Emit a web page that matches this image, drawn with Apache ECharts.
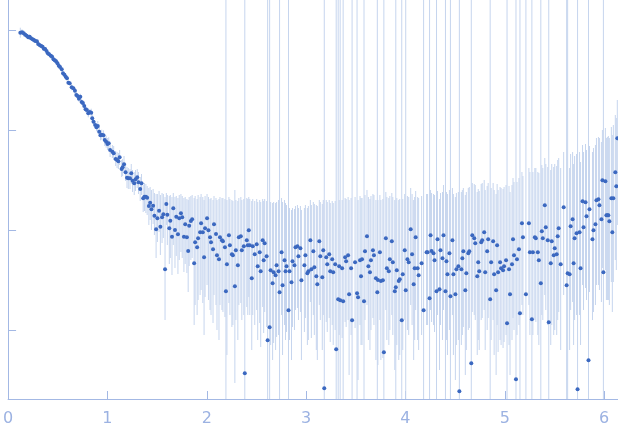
<!DOCTYPE html>
<html><head><meta charset="utf-8">
<script src="https://cdn.jsdelivr.net/npm/echarts@6/dist/echarts.min.js"></script>
<style>html,body{margin:0;padding:0;background:#fff}#c{width:618px;height:437px}</style>
</head><body><div id="c"></div>
<script>
// q (x axis) and log10 intensity values, by region
var xTicks = [0, 1, 2, 3, 4, 5, 6];
var yTicks = [0, 1, 2, 3];

// Region A: low q, symmetric error (log units)
var qA = [0.123,0.140,0.157,0.173,0.187,0.203,0.217,0.230,0.247,0.260,
0.273,0.290,0.303,0.317,0.333,0.347,0.360,0.373,0.387,0.400,
0.413,0.430,0.443,0.457,0.470,0.483,0.497,0.510,0.523,0.540,
0.553,0.567,0.580,0.593,0.607,0.620,0.640,0.657,0.673,0.687,
0.700,0.713,0.727,0.740,0.753,0.767,0.780,0.793,0.807,0.823,
0.837,0.847,0.860,0.877,0.890,0.903,0.917,0.930,0.943,0.960,
0.973,0.987,1.000,1.013,1.027];
var logIA = [2.973,2.977,2.967,2.953,2.943,2.927,2.933,2.917,2.907,2.900,
2.890,2.887,2.860,2.850,2.840,2.833,2.813,2.810,2.790,2.767,
2.757,2.743,2.733,2.707,2.697,2.687,2.667,2.643,2.630,2.607,
2.567,2.553,2.533,2.517,2.473,2.467,2.427,2.417,2.393,2.350,
2.340,2.313,2.333,2.280,2.270,2.240,2.207,2.200,2.167,2.180,
2.173,2.117,2.083,2.050,2.027,2.040,1.983,1.947,1.953,1.947,
1.900,1.883,1.860,1.867,1.800];
var errA = [0.05,0.03,0.03,0.02,0.02,0.02,0.02,0.02,0.02,0.02,
0.02,0.02,0.02,0.02,0.02,0.02,0.02,0.02,0.02,0.02,
0.02,0.02,0.02,0.02,0.02,0.02,0.02,0.02,0.02,0.02,
0.02,0.02,0.02,0.02,0.02,0.02,0.03,0.02,0.03,0.03,
0.03,0.03,0.03,0.03,0.03,0.03,0.03,0.03,0.04,0.03,
0.04,0.04,0.04,0.04,0.04,0.05,0.05,0.05,0.05,0.05,
0.06,0.06,0.06,0.06,0.07];

// Region B
var qB = [1.050,1.063,1.083,1.097,1.110,1.123,1.143,1.153,1.167,1.183,
1.197,1.210,1.227,1.240,1.253,1.270,1.283,1.300,1.313,1.330,
1.343,1.360,1.373,1.387,1.400,1.417,1.430,1.443,1.460,1.473,
1.490,1.503,1.520,1.533,1.550,1.563,1.580,1.593,1.603,1.623,
1.633,1.650,1.663,1.680,1.693,1.710,1.723,1.740,1.753,1.770,
1.783,1.800,1.813,1.823,1.840,1.853];
var logIB = [1.783,1.767,1.710,1.700,1.687,1.727,1.610,1.627,1.657,1.577,
1.523,1.517,1.517,1.567,1.493,1.467,1.507,1.527,1.477,1.410,
1.467,1.317,1.333,1.333,1.323,1.240,1.273,1.207,1.243,1.143,
1.007,1.117,1.193,1.033,1.127,1.157,0.607,1.260,1.153,1.017,
1.093,0.933,1.217,1.000,1.133,0.957,1.117,1.167,1.127,0.933,
1.057,0.927,0.790,1.043,1.090,1.107];
var hiB = [1.85,1.84,1.79,1.78,1.77,1.80,1.70,1.71,1.74,1.67,
1.63,1.62,1.61,1.66,1.60,1.58,1.60,1.61,1.58,1.53,
1.56,1.45,1.47,1.46,1.44,1.42,1.43,1.40,1.41,1.37,
1.36,1.36,1.39,1.35,1.37,1.36,1.33,1.37,1.35,1.34,
1.35,1.33,1.37,1.33,1.34,1.32,1.35,1.36,1.34,1.32,
1.33,1.31,1.30,1.33,1.34,1.35];
var loB = [1.72,1.70,1.64,1.62,1.61,1.65,1.53,1.54,1.57,1.49,
1.42,1.41,1.41,1.46,1.38,1.35,1.39,1.42,1.36,1.29,
1.35,1.18,1.19,1.17,1.15,1.05,1.10,1.00,1.06,0.95,
0.72,0.88,0.98,0.75,0.87,0.92,0.10,1.05,0.85,0.66,
0.72,0.55,0.85,0.62,0.74,0.56,0.70,0.78,0.72,0.58,
0.66,0.57,0.38,0.64,0.70,0.72];

// Region C
var qC = [1.873,1.883,1.903,1.913,1.933,1.943,1.960,1.973,1.983,2.003,
2.017,2.033,2.043,2.063,2.073,2.093,2.103,2.123,2.133,2.153,
2.163,2.183,2.193,2.203,2.223,2.233,2.253,2.263,2.283,2.293,
2.313,2.323,2.343,2.353,2.373,2.383,2.403,2.413,2.423,2.433,
2.453,2.463,2.483,2.503,2.513,2.533,2.543,2.563,2.573,2.583,
2.603,2.613,2.633,2.643,2.663,2.673,2.693,2.703];
var logIC = [0.667,0.877,0.827,0.917,0.977,1.067,0.977,0.727,1.017,1.117,
0.997,0.927,0.877,0.807,1.057,0.960,0.747,0.707,0.927,0.897,
0.887,0.827,0.387,0.657,0.947,0.847,0.757,0.747,0.437,0.797,
0.647,0.927,0.937,0.797,0.837,-0.433,0.897,0.847,0.997,0.847,
0.517,0.837,0.757,0.857,0.637,0.777,0.587,0.897,0.697,0.867,
0.737,-0.103,0.027,0.597,0.467,0.577,0.547,0.647];
var hiC = [1.32,1.34,1.31,1.35,1.33,1.36,1.33,1.30,1.34,1.36,
1.33,1.31,1.32,1.30,1.34,1.32,1.30,1.31,1.33,1.32,
1.32,1.31,3.40,1.30,1.33,1.31,1.30,1.29,1.40,1.30,
1.29,1.32,1.33,1.30,1.31,3.40,1.32,1.31,1.33,1.31,
1.29,1.31,1.29,1.31,1.28,1.30,1.28,1.31,1.29,1.31,
1.29,3.40,3.40,1.28,1.27,1.28,1.27,1.28];
var loC = [0.05,0.25,0.15,0.30,0.35,0.40,0.27,-0.05,0.33,0.45,
0.30,0.20,0.15,0.07,0.35,0.25,0.00,-0.10,0.25,0.20,
0.18,0.13,-0.80,-0.25,0.27,0.15,0.03,0.05,-0.53,0.10,
-0.10,0.25,0.27,0.10,0.15,-0.80,0.23,0.15,0.33,0.15,
-0.20,0.15,0.05,0.20,-0.10,0.07,-0.17,0.23,-0.03,0.18,
0.03,-0.80,-0.80,-0.15,-0.30,-0.13,-0.20,-0.07];

// Region D
var qD = [2.723,2.733,2.753,2.763,2.783,2.793,2.803,2.823,2.833,2.853,
2.863,2.883,2.893,2.913,2.923,2.943,2.953,2.983,2.993,3.013,
3.023,3.043,3.053,3.073,3.083,3.103,3.113,3.133,3.143,3.163,
3.173,3.183,3.203,3.213,3.233,3.243,3.263,3.273,3.293,3.303,
3.323,3.333,3.343,3.363,3.373,3.393,3.403,3.423,3.433,3.453,
3.463,3.493,3.513,3.523,3.543,3.553];
var logID = [0.587,0.377,0.777,0.447,0.697,0.587,0.637,0.197,0.587,0.477,
0.687,0.647,0.827,0.837,0.737,0.817,0.497,0.647,0.747,0.567,
0.587,0.897,0.607,0.787,0.627,0.537,0.457,0.887,0.737,0.527,
0.797,-0.583,0.727,0.657,0.757,0.587,0.707,0.577,0.657,-0.193,
0.307,0.637,0.297,0.617,0.287,0.727,0.687,0.747,0.357,0.617,
0.097,0.677,0.367,0.327,0.697,0.537];
var hiD = [1.30,3.40,1.32,1.28,1.30,1.27,1.25,3.40,1.22,1.20,
1.22,1.21,1.24,1.25,1.22,1.24,1.20,1.22,1.25,1.22,
1.24,1.30,1.25,1.28,1.26,1.25,1.24,1.30,1.28,1.26,
1.30,3.40,1.30,1.28,1.30,1.27,1.29,1.27,1.29,3.40,
3.40,1.30,3.40,1.30,3.40,1.32,1.31,1.33,1.30,1.32,
3.40,1.33,3.40,1.30,1.34,1.32];
var loD = [-0.05,-0.80,0.15,-0.25,0.05,-0.10,-0.02,-0.80,-0.10,-0.30,
0.03,0.00,0.20,0.22,0.10,0.18,-0.30,-0.02,0.12,-0.15,
-0.10,0.28,-0.08,0.15,-0.05,-0.20,-0.30,0.25,0.10,-0.20,
0.15,-0.80,0.08,-0.02,0.12,-0.12,0.05,-0.15,0.00,-0.80,
-0.80,-0.05,-0.80,-0.08,-0.80,0.08,0.03,0.10,-0.45,-0.05,
-0.80,0.02,-0.80,-0.50,0.05,-0.15];

// Region E
var qE = [3.563,3.583,3.593,3.613,3.627,3.643,3.653,3.673,3.683,3.703,
3.717,3.723,3.743,3.753,3.773,3.783,3.803,3.813,3.833,3.843,
3.863,3.873,3.893,3.903,3.913,3.933,3.943,3.963,3.973,3.993,
4.003,4.020,4.033,4.053,4.067,4.083,4.093,4.103,4.123,4.133,
4.163,4.183,4.213,4.223,4.243,4.253,4.263,4.283,4.293,4.313,
4.323,4.343,4.353];
var logIE = [0.707,0.287,0.787,0.937,0.637,0.577,0.697,0.797,0.747,0.517,
0.377,0.500,0.777,0.490,0.497,-0.223,0.917,0.617,0.587,0.707,
0.887,0.677,0.387,0.427,0.597,0.490,0.507,0.097,0.557,0.797,
0.397,0.707,0.677,1.007,0.757,0.457,0.617,0.927,0.617,0.547,
0.667,0.197,0.777,0.777,0.317,0.947,0.790,0.767,0.697,0.387,
0.907,0.407,0.797];
var hiE = [1.32,3.40,1.35,1.40,1.33,1.31,1.34,1.36,1.35,1.30,
3.40,1.30,1.35,1.30,1.31,3.40,1.38,1.33,1.32,1.34,
1.37,1.33,1.30,3.40,1.32,1.30,1.31,3.40,1.31,1.36,
3.40,1.34,1.33,1.42,1.36,1.30,1.33,1.39,1.33,1.32,
1.34,3.40,1.36,1.36,3.40,1.40,1.37,1.36,1.35,3.40,
1.39,1.31,1.37];
var loE = [-0.15,-0.80,0.10,0.25,-0.10,-0.20,0.00,0.12,0.05,-0.30,
-0.80,-0.35,0.10,-0.30,-0.28,-0.80,0.20,-0.10,-0.15,0.00,
0.15,-0.05,-0.40,-0.80,-0.15,-0.30,-0.25,-0.80,-0.20,0.10,
-0.80,0.00,-0.05,0.25,0.05,-0.30,-0.10,0.20,-0.10,-0.20,
-0.05,-0.80,0.05,0.05,-0.80,0.20,0.08,0.05,-0.02,-0.80,
0.15,-0.40,0.05];

// Region F
var qF = [4.373,4.383,4.403,4.413,4.423,4.443,4.453,4.473,4.483,4.503,
4.513,4.533,4.543,4.563,4.573,4.583,4.603,4.613,4.633,4.643,
4.663,4.673,4.693,4.703,4.723,4.733,4.743,4.763,4.773,4.793,
4.803,4.823,4.833,4.853,4.863,4.883,4.893,4.913,4.923,4.933,
4.953,4.963,4.983,4.993,5.013,5.023,5.043,5.053,5.073,5.083,
5.093,5.113,5.123,5.143,5.153,5.173,5.183,5.213];
var logIF = [0.717,0.947,0.387,0.687,0.557,0.767,0.337,0.897,0.557,0.357,
0.607,0.637,-0.613,0.607,0.717,0.787,0.397,0.567,0.767,0.787,
-0.333,0.947,0.917,0.867,0.537,0.677,0.587,0.877,0.897,0.977,
0.577,0.787,0.907,0.307,0.677,0.887,0.557,0.397,0.847,0.577,
0.677,0.617,0.597,0.637,0.697,0.067,0.607,0.357,0.657,0.907,
0.747,-0.493,0.707,0.807,0.167,1.067,0.927,0.357];
var hiF = [1.38,1.45,3.40,1.38,1.36,1.40,3.40,1.42,1.36,1.33,
1.37,1.38,3.40,1.38,1.40,1.42,1.35,1.38,1.42,1.43,
3.40,1.47,1.46,1.45,1.38,1.41,1.39,1.46,1.47,1.50,
1.40,1.44,1.47,3.40,1.42,1.47,1.40,1.36,1.46,1.40,
1.43,1.42,1.41,1.43,1.45,3.40,1.44,1.38,1.45,1.52,
1.48,3.40,1.48,1.52,3.40,1.58,1.54,3.40];
var loF = [-0.10,0.20,-0.80,-0.10,-0.25,0.00,-0.80,0.15,-0.25,-0.50,
-0.15,-0.10,-0.80,-0.15,-0.05,0.03,-0.45,-0.20,0.00,0.02,
-0.80,0.18,0.15,0.10,-0.25,-0.10,-0.20,0.10,0.12,0.20,
-0.20,0.00,0.12,-0.80,-0.10,0.10,-0.25,-0.45,0.05,-0.22,
-0.10,-0.15,-0.18,-0.12,-0.05,-0.80,-0.15,-0.45,-0.10,0.12,
0.00,-0.80,-0.05,0.05,-0.80,0.25,0.15,-0.80];

// Region G
var qG = [5.243,5.253,5.273,5.283,5.303,5.313,5.333,5.343,5.363,5.373,
5.383,5.403,5.413,5.433,5.443,5.463,5.473,5.493,5.503,5.523,
5.533,5.543,5.563,5.593,5.623,5.633,5.653,5.663,5.683,5.693,
5.703,5.723,5.733,5.753,5.763,5.783,5.793,5.813,5.823,5.843,
5.853,5.883,5.893,5.913,5.923,5.943,5.953,5.973,5.983,5.993,
6.013,6.023,6.033,6.043,6.053,6.073,6.083,6.093,6.113,6.123,
6.133];
var logIG = [1.067,0.777,0.107,0.777,0.927,0.917,0.777,0.697,0.467,0.987,
0.917,1.247,1.027,0.897,0.077,0.667,0.887,0.747,0.817,0.757,
0.937,1.017,0.657,1.227,0.447,0.567,0.557,1.037,1.107,0.667,
0.917,0.967,-0.593,0.977,0.617,1.287,1.027,1.277,1.137,-0.303,
1.207,0.907,0.997,1.057,1.297,1.307,1.247,1.107,1.497,0.577,
1.487,1.147,1.147,1.147,1.087,1.317,0.977,1.317,1.577,1.437,
1.917];
var hiG = [1.62,1.58,3.40,1.58,1.62,1.62,1.58,1.57,3.40,1.65,
1.62,1.72,1.66,1.63,3.40,1.60,1.66,1.63,1.66,1.64,
1.70,1.72,1.62,1.78,3.40,3.40,1.62,1.76,1.78,1.66,
1.74,1.76,3.40,1.78,1.68,1.85,1.78,1.86,1.80,3.40,
1.84,1.78,1.82,1.85,1.92,1.93,1.92,1.88,2.00,3.40,
2.02,1.92,1.93,1.94,1.92,2.03,1.95,2.05,2.15,2.12,
2.30];
var loG = [0.25,-0.05,-0.80,-0.05,0.10,0.08,-0.05,-0.15,-0.80,0.15,
0.10,0.35,0.20,0.05,-0.80,-0.15,0.05,-0.05,0.00,-0.05,
0.10,0.18,-0.20,0.35,-0.80,-0.80,-0.20,0.20,0.28,-0.15,
0.10,0.15,-0.80,0.15,-0.15,0.45,0.20,0.42,0.30,-0.80,
0.38,0.10,0.18,0.25,0.45,0.45,0.40,0.28,0.62,-0.80,
0.60,0.30,0.30,0.30,0.25,0.48,0.18,0.48,0.70,0.60,
1.05];

// assemble
var points = [], bars = [];
qA.forEach(function (q, i) {
  points.push([q, logIA[i]]);
  bars.push([q, logIA[i] + errA[i], logIA[i] - errA[i]]);
});
[[qB, logIB, hiB, loB], [qC, logIC, hiC, loC], [qD, logID, hiD, loD],
 [qE, logIE, hiE, loE], [qF, logIF, hiF, loF], [qG, logIG, hiG, loG]].forEach(function (r) {
  r[0].forEach(function (q, i) {
    points.push([q, r[1][i]]);
    bars.push([q, r[2][i], r[3][i]]);
  });
});

var axisColor = '#a3b8e4';
var chart = echarts.init(document.getElementById('c'), null, {renderer: 'canvas'});
chart.setOption({
  animation: false,
  backgroundColor: '#ffffff',
  grid: {left: 4, right: 0, top: 0, bottom: 38, containLabel: false},
  xAxis: {
    type: 'value', min: 0, max: 6.14,
    axisLine: {show: true, onZero: false, lineStyle: {color: axisColor, width: 1}},
    axisTick: {show: true, inside: true, length: 8, customValues: xTicks, lineStyle: {color: axisColor}},
    axisLabel: {show: true, customValues: xTicks, color: '#9cb2e2', fontSize: 16, margin: 12, fontFamily: 'DejaVu Sans'},
    splitLine: {show: false}
  },
  yAxis: {
    type: 'value', min: -0.69, max: 3.3,
    axisLine: {show: true, onZero: false, lineStyle: {color: axisColor, width: 1}},
    axisTick: {show: true, inside: true, length: 8, customValues: yTicks, lineStyle: {color: axisColor}},
    axisLabel: {show: false},
    splitLine: {show: false}
  },
  series: [
    {
      type: 'custom', clip: true, z: 1,
      data: bars,
      renderItem: function (params, api) {
        var x = api.value(0);
        var p1 = api.coord([x, api.value(1)]);
        var p2 = api.coord([x, api.value(2)]);
        return {type: 'line', shape: {x1: p1[0], y1: p1[1], x2: p2[0], y2: p2[1]},
                style: {stroke: '#c6d5ee', lineWidth: 1}};
      }
    },
    {
      type: 'scatter', z: 3, symbol: 'circle', symbolSize: 4,
      itemStyle: {color: '#3b68c0', opacity: 1},
      data: points
    }
  ]
});
</script>
</body></html>
